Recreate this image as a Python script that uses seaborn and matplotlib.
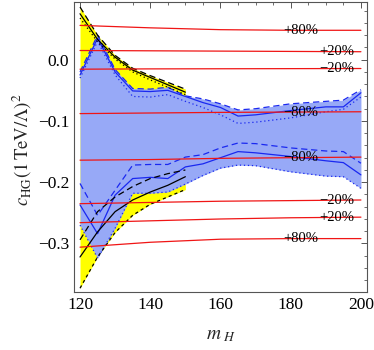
import numpy as np
import matplotlib
matplotlib.use("Agg")
import matplotlib.pyplot as plt
import seaborn as sns
from matplotlib.ticker import MultipleLocator

# --- STYLE ---
sns.set_theme(style="white")
plt.rcParams['font.family'] = ['Liberation Serif', 'DejaVu Serif']
plt.rcParams['mathtext.fontset'] = 'stix'

# --- DATA ---
# blue band: full mass range
mass = [120, 125, 130, 135, 140, 145, 150, 155, 160, 165, 170, 180, 190, 195, 200]
band_up_dashed = [-0.020, 0.040, -0.016, -0.047, -0.048, -0.045, -0.059, -0.064, -0.072, -0.082, -0.080, -0.072, -0.068, -0.066, -0.049]
band_up_solid = [-0.025, 0.035, -0.020, -0.051, -0.052, -0.050, -0.060, -0.070, -0.078, -0.092, -0.090, -0.083, -0.077, -0.077, -0.054]
band_up_dotted = [-0.030, 0.030, -0.025, -0.060, -0.061, -0.057, -0.068, -0.078, -0.090, -0.104, -0.102, -0.095, -0.085, -0.081, -0.061]
band_lo_dashed = [-0.202, -0.254, -0.213, -0.172, -0.171, -0.171, -0.159, -0.155, -0.144, -0.136, -0.137, -0.144, -0.149, -0.150, -0.169]
band_lo_solid = [-0.237, -0.284, -0.221, -0.194, -0.192, -0.194, -0.175, -0.170, -0.160, -0.150, -0.152, -0.158, -0.165, -0.168, -0.188]
band_lo_dotted = [-0.270, -0.324, -0.275, -0.218, -0.218, -0.216, -0.203, -0.189, -0.177, -0.172, -0.173, -0.183, -0.190, -0.191, -0.210]

# yellow band: low mass only
mass_low = [120, 125, 130, 135, 140, 145, 150]
fit_up_dashed = [0.086, 0.040, 0.007, -0.014, -0.026, -0.037, -0.048]
fit_up_solid = [0.075, 0.033, 0.004, -0.017, -0.029, -0.041, -0.053]
fit_up_dotted = [0.068, 0.029, 0.001, -0.020, -0.033, -0.045, -0.057]
fit_lo_dashed = [-0.294, -0.248, -0.224, -0.207, -0.194, -0.186, -0.180]
fit_lo_solid = [-0.322, -0.281, -0.248, -0.229, -0.216, -0.205, -0.191]
fit_lo_dotted = [-0.373, -0.322, -0.282, -0.254, -0.236, -0.224, -0.212]

# red contours
mass_red = [120, 140, 160, 180, 200]
red_curves = {
    'top +80%': [0.056, 0.052, 0.049, 0.048, 0.048],
    'top +20%': [0.015, 0.0145, 0.014, 0.0135, 0.013],
    'top -20%': [-0.0155, -0.015, -0.0148, -0.0146, -0.0144],
    'top -80%': [-0.088, -0.087, -0.086, -0.0855, -0.085],
    'bot -80%': [-0.164, -0.163, -0.161, -0.160, -0.159],
    'bot -20%': [-0.235, -0.233, -0.231, -0.230, -0.229],
    'bot +20%': [-0.266, -0.263, -0.260, -0.258, -0.257],
    'bot +80%': [-0.306, -0.298, -0.293, -0.292, -0.292],
}
red_labels = ['+80%', '+20%', '\u221220%', '\u221280%', '\u221280%', '\u221220%', '+20%', '+80%']

# --- PLOT ---
fig = plt.figure(figsize=(3.74, 3.5), dpi=100)
ax = fig.add_axes([0.198, 0.166, 0.783, 0.828])

BLUE_FILL = '#97a9f7'
BLUE = '#1a28f0'
RED = '#f01515'
dash = (5, 3)
dot = (1, 2.2)
short = (2.5, 2.5)

ax.fill_between(mass_low, fit_lo_dotted, fit_up_dashed, color='#ffff00', lw=0, zorder=1)
band_top = np.maximum.reduce([band_up_dashed, band_up_solid, band_up_dotted])
ax.fill_between(mass, band_lo_dotted, band_top, color=BLUE_FILL, lw=0, zorder=2)

for ys, style in [(band_up_dashed, dash), (band_up_solid, None), (band_up_dotted, dot),
                  (band_lo_dashed, dash), (band_lo_solid, None), (band_lo_dotted, dot)]:
    l = sns.lineplot(x=mass, y=ys, color=BLUE, lw=0.9, ax=ax, zorder=3)
    if style is not None:
        l.lines[-1].set_dashes(style)

for ys, style in [(fit_up_dashed, dash), (fit_up_solid, None), (fit_up_dotted, dot),
                  (fit_lo_dashed, dash), (fit_lo_solid, None), (fit_lo_dotted, short)]:
    l = sns.lineplot(x=mass_low, y=ys, color='black', lw=0.9, ax=ax, zorder=4)
    if style is not None:
        l.lines[-1].set_dashes(style)

for (name, ys), lab in zip(red_curves.items(), red_labels):
    sns.lineplot(x=mass_red, y=ys, color=RED, lw=0.9, ax=ax, zorder=5)
    xl = 183 if '80' in lab else 193
    ax.text(xl, np.interp(xl, mass_red, ys), lab, ha='center', va='center',
            fontsize=10.5, color='black', zorder=6)

ax.set_xlim(118.3, 201.7)
ax.set_ylim(-0.379, 0.094)
ax.xaxis.set_major_locator(MultipleLocator(20))
ax.xaxis.set_minor_locator(MultipleLocator(5))
ax.yaxis.set_major_locator(MultipleLocator(0.1))
ax.yaxis.set_minor_locator(MultipleLocator(0.02))
ax.yaxis.set_major_formatter(matplotlib.ticker.FuncFormatter(lambda v, p: f"{v:.1f}".replace('-', '\u2212') if abs(v) > 1e-9 else "0.0"))

ax.tick_params(which='both', direction='in', top=True, right=True, colors='#555555',
               labelcolor='black', labelsize=12.5)
ax.tick_params(which='major', length=4.5, width=0.7)
ax.tick_params(which='minor', length=2.5, width=0.6)
for s in ax.spines.values():
    s.set_color('#555555')
    s.set_linewidth(0.8)

ax.set_xlabel(r'$m_{\ H}$', fontsize=14)
ax.xaxis.set_label_coords(0.5, -0.149)
ax.xaxis.label.set_va('center')
ax.set_ylabel(r'$c_{\mathrm{HG}}(1\,\mathrm{TeV}/\Lambda)^2$', fontsize=13.5)
ax.yaxis.set_label_coords(-0.178, 0.49)
ax.yaxis.label.set_va('center')

fig.savefig('out.png', dpi=100)
